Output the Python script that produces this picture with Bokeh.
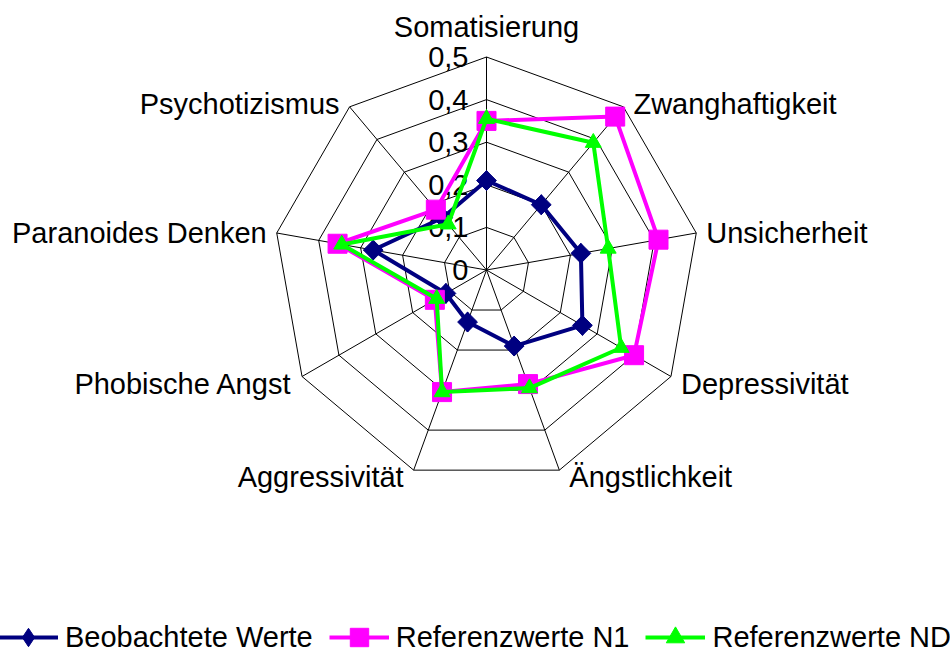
import numpy as np
from bokeh.plotting import figure
from bokeh.models import ColumnDataSource, Legend, LegendItem, Range1d
from bokeh.core.properties import value
from bokeh.embed import file_html
from bokeh.resources import INLINE

# ---- data ----
categories = ["Somatisierung", "Zwanghaftigkeit", "Unsicherheit", "Depressivität",
              "Ängstlichkeit", "Aggressivität", "Phobische Angst",
              "Paranoides Denken", "Psychotizismus"]
beobachtete = [0.21, 0.20, 0.225, 0.26, 0.19, 0.13, 0.11, 0.27, 0.16]
referenz_n1 = [0.35, 0.47, 0.41, 0.40, 0.285, 0.305, 0.14, 0.355, 0.185]
referenz_nd = [0.355, 0.39, 0.29, 0.365, 0.295, 0.305, 0.135, 0.345, 0.14]
tick_values = [0, 0.1, 0.2, 0.3, 0.4, 0.5]
tick_labels = ["0", "0,1", "0,2", "0,3", "0,4", "0,5"]
series_names = ["Beobachtete Werte", "Referenzwerte N1", "Referenzwerte ND"]

FONT_NAME = "Liberation Sans"
FONT = value(FONT_NAME)
FS = "29px"

W, H = 950, 655
K = 426.0              # pixels per value unit
CX, CY = 486.0, 269.5  # centre in pixels from plot top-left

p = figure(width=W, height=H,
           x_range=Range1d(-CX / K, (W - CX) / K),
           y_range=Range1d(-(H - CY) / K, CY / K),
           output_backend="svg", toolbar_location=None,
           x_axis_location=None, y_axis_location=None, min_border=0)
p.grid.visible = False
p.outline_line_color = None
p.background_fill_color = "white"

n = len(categories)
theta = np.arange(n) * 2 * np.pi / n
sin_t, cos_t = np.sin(theta), np.cos(theta)
rmax = tick_values[-1]

# grid rings
for t in tick_values[1:]:
    xs = list(t * sin_t) + [t * sin_t[0]]
    ys = list(t * cos_t) + [t * cos_t[0]]
    p.line(xs, ys, line_color="black", line_width=1)
# spokes
p.segment(x0=[0] * n, y0=[0] * n, x1=list(rmax * sin_t), y1=list(rmax * cos_t),
          line_color="black", line_width=1)

# radial tick labels
tick_src = ColumnDataSource(dict(x=[-18 / K] * len(tick_values), y=tick_values, t=tick_labels))
p.text(x="x", y="y", text="t", source=tick_src, text_align="right", text_baseline="middle",
       text_font=FONT, text_font_size=FS, text_color="black")

# category labels
lx, ly, la = [], [], []
for s, c in zip(sin_t, cos_t):
    vx, vy = rmax * s, rmax * c
    if abs(s) < 0.1:
        lx.append(vx); ly.append(vy + 30 / K); la.append("center")
    else:
        dx = 10 if s > 0 else -10
        dy = -7 if c < -0.3 else (3 if c > 0.3 else 0)
        lx.append(vx + dx / K); ly.append(vy + dy / K)
        la.append("left" if s > 0 else "right")
lab_src = ColumnDataSource(dict(x=lx, y=ly, t=categories, a=la))
p.text(x="x", y="y", text="t", text_align="a", source=lab_src, text_baseline="middle",
       text_font=FONT, text_font_size=FS, text_color="black")

# series
def closed(vals):
    xs = [v * s for v, s in zip(vals, sin_t)]
    ys = [v * c for v, c in zip(vals, cos_t)]
    return xs, ys

items = []
specs = [
    (beobachtete, "#000080", "diamond"),
    (referenz_n1, "#FF00FF", "square"),
    (referenz_nd, "#00FF00", "triangle"),
]
for name, (vals, col, mk) in zip(series_names, specs):
    xs, ys = closed(vals)
    lr = p.line(xs + [xs[0]], ys + [ys[0]], line_color=col, line_width=4)
    if mk == "diamond":
        legr = p.scatter(xs, ys, marker="diamond", size=20, fill_color=col, line_color=col)
        p.scatter(xs, ys, marker="square", angle=np.pi / 4, size=14, fill_color=col, line_color=col)
    elif mk == "square":
        legr = p.scatter(xs, ys, marker="square", size=19, fill_color=col, line_color=col)
    else:
        legr = p.scatter(xs, ys, marker="triangle", size=16, fill_color=col, line_color=col)
    items.append(LegendItem(label=name, renderers=[lr, legr]))

legend = Legend(items=items, orientation="horizontal", location=(-2, -5),
                glyph_width=60, glyph_height=46, label_standoff=7, spacing=16,
                padding=0, margin=0, border_line_color=None, background_fill_alpha=0,
                label_text_font=FONT_NAME, label_text_font_size=FS, label_text_color="black")
p.add_layout(legend)

open("out.html", "w").write(file_html(p, INLINE))
